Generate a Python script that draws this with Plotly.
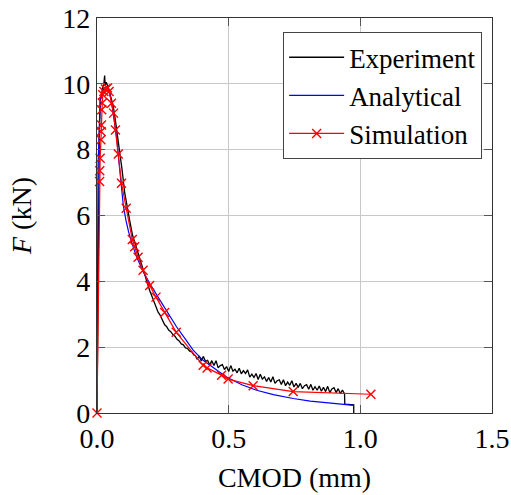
import plotly.graph_objects as go

# ---------------- data ----------------
exp_x = [0.0, 0.002, 0.004, 0.006, 0.009, 0.013, 0.018, 0.022, 0.026, 0.029, 0.031, 0.035,
         0.040, 0.045, 0.050, 0.055, 0.061, 0.068, 0.075, 0.086, 0.095, 0.105, 0.115, 0.124,
         0.135, 0.148, 0.160, 0.175, 0.1875,
         0.200, 0.206, 0.213, 0.219, 0.226, 0.232, 0.238, 0.244, 0.250, 0.257, 0.264, 0.272,
         0.280, 0.288, 0.296, 0.304, 0.312, 0.320, 0.328, 0.336, 0.344, 0.352, 0.360, 0.368, 0.374,
         0.380, 0.388, 0.396, 0.404, 0.412, 0.420, 0.428, 0.436, 0.444, 0.452, 0.460, 0.468,
         0.476, 0.484, 0.492, 0.500, 0.508, 0.516, 0.524, 0.532, 0.540, 0.548, 0.556, 0.564,
         0.572, 0.580, 0.588, 0.596, 0.604, 0.612, 0.620, 0.628, 0.636, 0.644, 0.652, 0.660,
         0.668, 0.676, 0.684, 0.692, 0.700, 0.708, 0.716, 0.724, 0.732, 0.740, 0.748, 0.756,
         0.764, 0.772, 0.780, 0.788, 0.796, 0.804, 0.812, 0.820, 0.828, 0.836, 0.844, 0.852,
         0.860, 0.868, 0.876, 0.884, 0.892, 0.900, 0.908, 0.916, 0.924, 0.932, 0.940,
         0.941, 0.975, 0.975]
exp_y = [0.0, 1.5, 4.0, 6.5, 8.5, 9.5, 9.8, 9.9, 10.0, 10.25, 9.95, 10.05,
         9.95, 9.8, 9.65, 9.5, 9.35, 9.0, 8.6, 8.05, 7.4, 6.7, 6.2, 5.85,
         5.4, 5.05, 4.72, 4.35, 4.0,
         3.72, 3.60, 3.45, 3.34, 3.22, 3.06, 3.00, 2.88, 2.82, 2.68, 2.63, 2.52,
         2.47, 2.38, 2.33, 2.24, 2.19, 2.10, 2.07, 1.98, 1.96, 1.88, 1.86, 1.76, 1.74,
         1.63, 1.73, 1.58, 1.72, 1.57, 1.60, 1.46, 1.59, 1.44, 1.59, 1.37, 1.44,
         1.47, 1.32, 1.41, 1.26, 1.44, 1.27, 1.33, 1.22, 1.36, 1.19, 1.29, 1.20,
         1.31, 1.09, 1.18, 1.08, 1.20, 1.02, 1.18, 1.03, 1.10, 0.96, 1.08, 0.94,
         1.10, 0.90, 0.98, 1.01, 0.87, 1.01, 0.83, 0.94, 0.84, 0.98, 0.79, 0.90,
         0.78, 0.90, 0.74, 0.83, 0.86, 0.72, 0.87, 0.69, 0.80, 0.69, 0.82, 0.66,
         0.78, 0.65, 0.81, 0.62, 0.73, 0.77, 0.62, 0.74, 0.59, 0.70, 0.58,
         0.27, 0.25, 0.0]

ana_x = [0.0, 0.004, 0.012, 0.025, 0.038, 0.045, 0.055, 0.065, 0.075, 0.080, 0.090, 0.100,
         0.110, 0.120, 0.135, 0.150, 0.175, 0.200, 0.239, 0.270, 0.302, 0.335, 0.365, 0.403,
         0.440, 0.490, 0.550, 0.606, 0.670, 0.745, 0.810, 0.884, 0.935, 0.976]
ana_y = [0.0, 7.5, 9.5, 9.85, 9.92, 9.85, 9.45, 8.95, 8.35, 7.9, 7.0, 6.3,
         5.85, 5.5, 5.1, 4.75, 4.3, 3.94, 3.43, 3.02, 2.62, 2.25, 1.91, 1.60,
         1.38, 1.10, 0.86, 0.69, 0.56, 0.44, 0.36, 0.30, 0.26, 0.23]

sim_x = [0.0, 0.010, 0.0105, 0.012, 0.015, 0.0155, 0.017, 0.018, 0.020, 0.022, 0.026, 0.032,
         0.040, 0.046, 0.055, 0.063, 0.070, 0.081, 0.093, 0.111, 0.134, 0.143, 0.156, 0.175,
         0.200, 0.224, 0.257, 0.301, 0.403, 0.418, 0.473, 0.498, 0.593, 0.745, 1.040]
sim_y = [0.0, 7.03, 7.36, 7.74, 8.30, 8.55, 8.75, 9.21, 9.42, 9.67, 9.77, 9.84,
         9.87, 9.77, 9.41, 9.11, 8.60, 7.87, 6.98, 6.22, 5.27, 5.05, 4.73, 4.34,
         3.87, 3.52, 3.05, 2.45, 1.45, 1.37, 1.15, 1.03, 0.83, 0.65, 0.57]

x_ticks = [0.0, 0.5, 1.0, 1.5]
y_ticks = [0, 2, 4, 6, 8, 10, 12]

FONT = "Liberation Serif"

fig = go.Figure()
fig.add_trace(go.Scatter(x=exp_x, y=exp_y, mode="lines", name="Experiment",
                         line=dict(color="black", width=1.3)))
fig.add_trace(go.Scatter(x=ana_x, y=ana_y, mode="lines", name="Analytical",
                         line=dict(color="blue", width=1.2)))
fig.add_trace(go.Scatter(x=sim_x, y=sim_y, mode="lines+markers", name="Simulation",
                         cliponaxis=False,
                         line=dict(color="red", width=1.2),
                         marker=dict(symbol="x-thin", size=9, color="red",
                                     line=dict(width=1.4, color="red"))))

axis_common = dict(showgrid=True, gridcolor="#c8c8c8", gridwidth=1,
                   showline=True, linecolor="#333", linewidth=1.2, mirror="ticks",
                   ticks="inside", ticklen=8, tickcolor="#555", tickwidth=1,
                   zeroline=False, automargin=False,
                   tickfont=dict(family=FONT, size=28, color="black"))

fig.update_xaxes(range=[0, 1.5], tickvals=x_ticks, ticktext=[f"{v:.1f}" for v in x_ticks],
                 title=dict(text="CMOD (mm)", font=dict(family=FONT, size=28, color="black"),
                            standoff=14),
                 **axis_common)
fig.update_yaxes(range=[0, 12], tickvals=y_ticks, ticktext=[str(v) for v in y_ticks],
                 title=dict(text="<i>F</i> (kN)", font=dict(family=FONT, size=28, color="black"),
                            standoff=22),
                 **axis_common)

fig.update_layout(
    width=511, height=495,
    margin=dict(l=97, r=19, t=18, b=82),
    plot_bgcolor="white", paper_bgcolor="white",
    font=dict(family=FONT, size=28, color="black"),
    legend=dict(x=0.975, xanchor="right", y=0.964, yanchor="top",
                bgcolor="white", bordercolor="#444", borderwidth=1,
                font=dict(family=FONT, size=27, color="black"),
                itemwidth=55, tracegroupgap=0),
    showlegend=True,
)

# remove the default page margin so the figure fills the window exactly
fig.write_html("out.html",
               config={"displayModeBar": False},
               post_script="document.body.style.margin='0';document.body.style.overflow='hidden';")
